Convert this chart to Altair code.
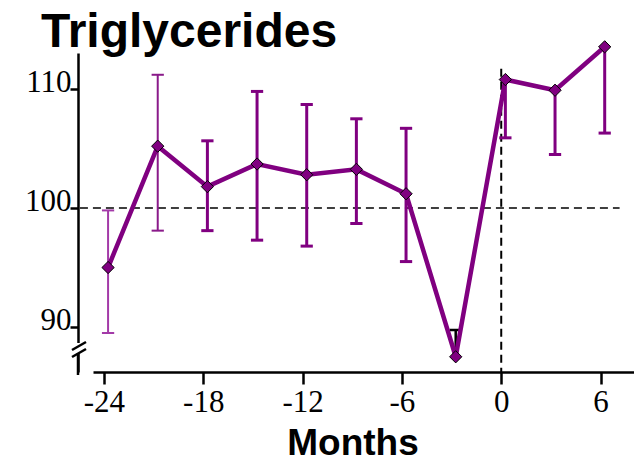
import altair as alt
import pandas as pd

# ---- data ----
title_text = "Triglycerides"
x_title = "Months"
months = [-23.75, -20.75, -17.75, -14.75, -11.75, -8.75, -5.75, -2.75, 0.25, 3.25, 6.25]
means = [95.0, 105.2, 101.8, 103.7, 102.8, 103.25, 101.2, 87.5, 110.8, 109.9, 113.55]
upper = [99.8, 111.2, 105.65, 109.8, 108.7, 107.5, 106.7, 89.75, None, None, None]
lower = [89.5, 98.1, 98.1, 97.3, 96.8, 98.7, 95.5, None, 105.9, 104.5, 106.3]
bar_colors = ["#a33aa8", "#8a1a8a", "#800080", "#800080", "#800080", "#800080",
              "#800080", "#000000", "#800080", "#800080", "#800080"]
bar_widths = [2, 2, 3, 3, 3, 3, 3, 2.5, 3, 3, 3]
x_ticks = [-24, -18, -12, -6, 0, 6]
y_ticks = [90, 100, 110]
ref_y = 100
ref_x = 0

PURPLE = "#800080"
x_dom = [-24.66, 8.02]
y_dom = [86.22, 113.03]

pts = pd.DataFrame({"m": months, "v": means})

bars_rows, cap_rows = [], []
for m, v, hi, lo, c, w in zip(months, means, upper, lower, bar_colors, bar_widths):
    top = hi if hi is not None else v
    bot = lo if lo is not None else v
    bars_rows.append({"m": m, "lo": bot, "hi": top, "c": c, "w": w})
    for e in (hi, lo):
        if e is not None:
            cap_rows.append({"m": m, "e": e, "c": c, "w": w})
bars = pd.DataFrame(bars_rows)
caps = pd.DataFrame(cap_rows)

xs = alt.Scale(domain=x_dom, nice=False, zero=False)
ys = alt.Scale(domain=y_dom, nice=False, zero=False)

x_axis = alt.Axis(values=x_ticks, grid=False, title=x_title, domainColor="black",
                  domainWidth=2.5, tickColor="black", tickWidth=2.5, tickSize=12,
                  labelFont="Liberation Serif", labelFontSize=31, labelColor="black",
                  labelPadding=3, labelAngle=0, labelFlush=False,
                  labelExpr="'' + datum.value",
                  titleFont="Liberation Sans", titleFontWeight="bold", titleFontSize=37,
                  titleColor="black", titleX=259.5, titleY=82, titleBaseline="alphabetic",
                  titleAlign="center", titleAnchor="middle")
y_axis = alt.Axis(values=y_ticks, grid=False, title=None, offset=15, domainColor="black",
                  domainWidth=2.5, tickColor="black", tickWidth=2.5, tickSize=8,
                  labelFont="Liberation Serif", labelFontSize=31, labelColor="black",
                  labelPadding=-1, labelBaseline="alphabetic", labelOffset=2,
                  labelFlush=False, labelExpr="'' + datum.value")

hline = alt.Chart(pd.DataFrame({"a": [-25.45], "b": [7.15], "y": [ref_y]})).mark_rule(
    color="black", strokeWidth=1.5, strokeDash=[8, 5]
).encode(x=alt.X("a:Q", scale=xs, axis=x_axis), x2="b:Q",
         y=alt.Y("y:Q", scale=ys, axis=y_axis))

vline = alt.Chart(pd.DataFrame({"x": [ref_x], "a": [111.7], "b": [y_dom[0]]})).mark_rule(
    color="black", strokeWidth=2, strokeDash=[8, 5]
).encode(x=alt.X("x:Q", scale=xs), y=alt.Y("a:Q", scale=ys), y2="b:Q")

err = alt.Chart(bars).mark_rule().encode(
    x=alt.X("m:Q", scale=xs), y=alt.Y("lo:Q", scale=ys), y2="hi:Q",
    color=alt.Color("c:N", scale=None), size=alt.Size("w:Q", scale=None))

cap = alt.Chart(caps).transform_calculate(
    xa="datum.m - 0.37", xb="datum.m + 0.37"
).mark_rule().encode(
    x=alt.X("xa:Q", scale=xs), x2="xb:Q", y=alt.Y("e:Q", scale=ys),
    color=alt.Color("c:N", scale=None), size=alt.Size("w:Q", scale=None))

line = alt.Chart(pts).mark_line(color=PURPLE, strokeWidth=4.5).encode(
    x=alt.X("m:Q", scale=xs), y=alt.Y("v:Q", scale=ys))

dots = alt.Chart(pts).mark_point(shape="diamond", filled=True, fill=PURPLE, stroke="black",
                                 strokeWidth=1, size=150, opacity=1).encode(
    x=alt.X("m:Q", scale=xs), y=alt.Y("v:Q", scale=ys))

# axis break decoration
gap = alt.Chart(pd.DataFrame({"k": [0]})).mark_rect(color="white").encode(
    x=alt.value(-20), x2=alt.value(-10), y=alt.value(290), y2=alt.value(300))
ext = alt.Chart(pd.DataFrame({"k": [0]})).mark_rule(color="black", strokeWidth=2.5).encode(
    x=alt.value(-15), y=alt.value(300), y2=alt.value(322))
sl1 = alt.Chart(pd.DataFrame({"k": [0]})).mark_rule(color="black", strokeWidth=2.5).encode(
    x=alt.value(-21), x2=alt.value(-7), y=alt.value(297), y2=alt.value(289))
sl2 = alt.Chart(pd.DataFrame({"k": [0]})).mark_rule(color="black", strokeWidth=2.5).encode(
    x=alt.value(-21), x2=alt.value(-7), y=alt.value(304), y2=alt.value(296))

title = alt.Chart(pd.DataFrame({"t": [title_text]})).mark_text(
    font="Liberation Sans", fontWeight="bold", fontSize=48, color="black",
    align="left", baseline="alphabetic"
).encode(text="t:N", x=alt.value(-52), y=alt.value(-6))

chart = alt.layer(hline, vline, err, cap, line, dots, gap, ext, sl1, sl2, title).properties(
    width=541, height=319,
    autosize=alt.AutoSizeParams(type="none"),
    padding={"left": 93, "top": 53, "right": 0, "bottom": 90},
    background="white",
).configure_view(stroke=None)

chart.save("out.html", embed_options={"renderer": "svg", "actions": False})
